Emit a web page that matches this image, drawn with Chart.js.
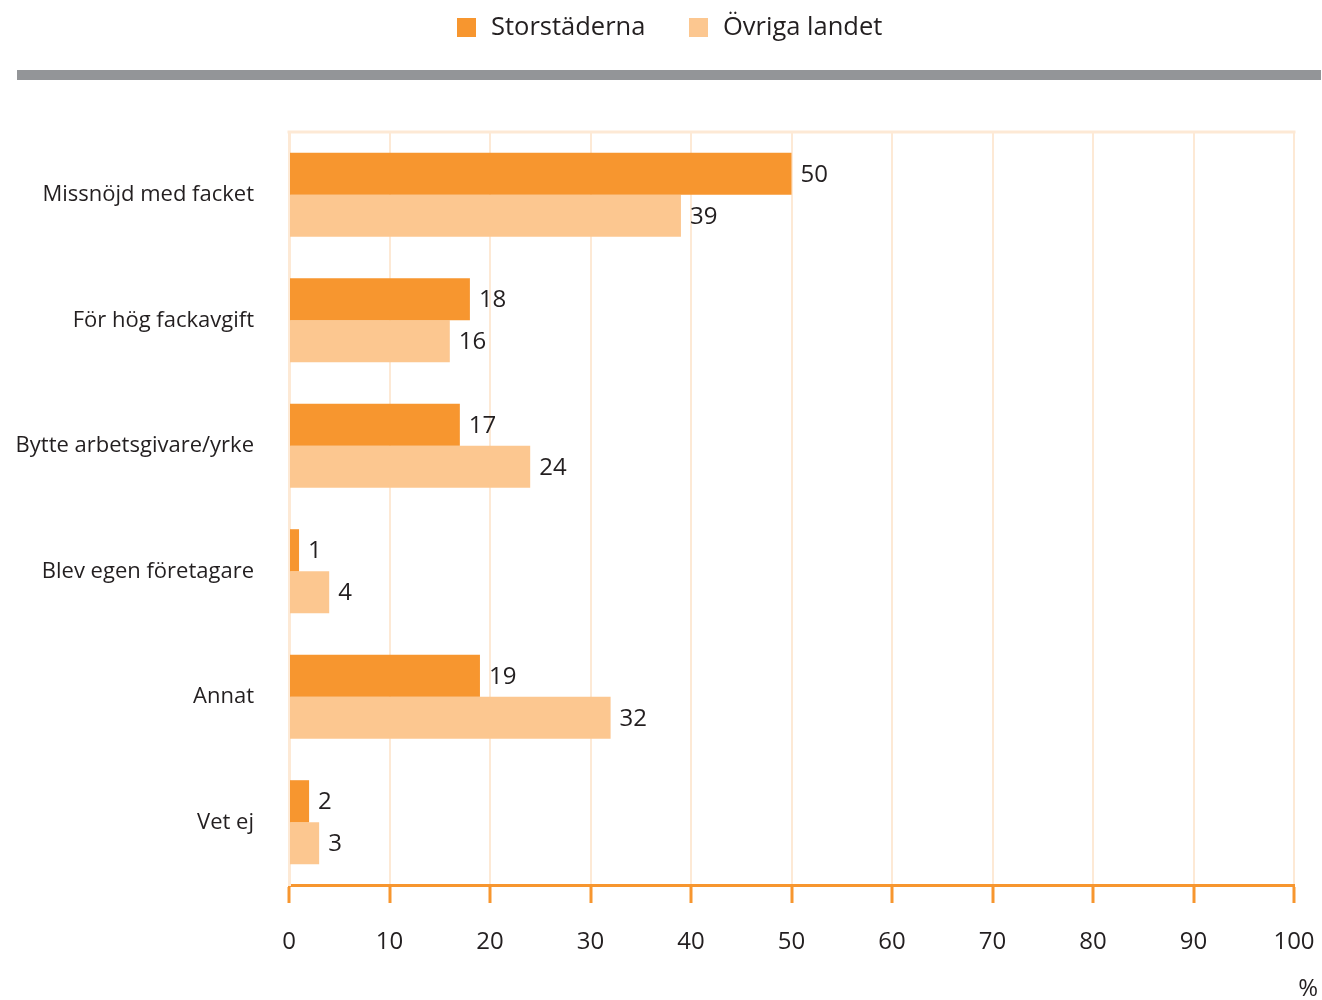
<!DOCTYPE html>
<html>
<head>
<meta charset="utf-8">
<script src="https://cdn.jsdelivr.net/npm/chart.js@4"></script>
<style>
  html, body { margin: 0; padding: 0; background: #fff; }
  #wrap { width: 1322px; height: 1000px; position: relative; }
</style>
</head>
<body>
<div id="wrap"><canvas id="myChart" width="1322" height="1000"></canvas></div>
<script>
const categories = ['Missnöjd med facket', 'För hög fackavgift', 'Bytte arbetsgivare/yrke', 'Blev egen företagare', 'Annat', 'Vet ej'];
const storstaderna = [50, 18, 17, 1, 19, 2];
const ovrigaLandet = [39, 16, 24, 4, 32, 3];
const seriesNames = ['Storstäderna', 'Övriga landet'];
const xTicks = [0, 10, 20, 30, 40, 50, 60, 70, 80, 90, 100];

const ORANGE = '#f7962f';
const LIGHT = '#fcc790';
const PEACH = '#fde9d5';
const TEXT = '#231f20';
const FONT = "'Open Sans', sans-serif";

// legend, grey rule, top border, % sign and value labels
const extras = {
  id: 'extras',
  beforeDraw(chart) {
    const c = chart.ctx;
    c.save();
    c.fillStyle = '#939598';
    c.fillRect(17, 70, 1304, 10);
    // legend
    c.font = '25.5px ' + FONT;
    c.textBaseline = 'middle';
    c.fillStyle = ORANGE;
    c.fillRect(457, 18, 19, 19);
    c.fillStyle = TEXT;
    c.fillText(seriesNames[0], 491, 28);
    c.fillStyle = LIGHT;
    c.fillRect(689, 18, 19, 19);
    c.fillStyle = TEXT;
    c.fillText(seriesNames[1], 723, 28);
    c.restore();
  },
  afterDraw(chart) {
    const c = chart.ctx;
    const a = chart.chartArea;
    c.save();
    c.strokeStyle = PEACH;
    c.lineWidth = 3;
    c.beginPath();
    c.moveTo(a.left - 1.5, a.top);
    c.lineTo(a.right + 1.5, a.top);
    c.stroke();
    c.fillStyle = TEXT;
    c.font = '24px ' + FONT;
    c.textBaseline = 'middle';
    c.textAlign = 'left';
    chart.data.datasets.forEach((ds, i) => {
      chart.getDatasetMeta(i).data.forEach((bar, j) => {
        c.fillText(String(ds.data[j]), bar.x + 9, bar.y + 1);
      });
    });
    c.textAlign = 'right';
    c.fillText('%', 1318, 989);
    c.restore();
  }
};

const ctx = document.getElementById('myChart');
new Chart(ctx, {
  type: 'bar',
  data: {
    labels: categories,
    datasets: [{
      label: seriesNames[0],
      data: storstaderna,
      backgroundColor: ORANGE,
      categoryPercentage: 0.67,
      barPercentage: 1
    }, {
      label: seriesNames[1],
      data: ovrigaLandet,
      backgroundColor: LIGHT,
      categoryPercentage: 0.67,
      barPercentage: 1
    }]
  },
  options: {
    indexAxis: 'y',
    responsive: false,
    animation: false,
    devicePixelRatio: 1,
    layout: { padding: { top: 132, right: 28, bottom: 0, left: 0 } },
    plugins: {
      legend: { display: false },
      tooltip: { enabled: false }
    },
    scales: {
      x: {
        min: 0,
        max: 100,
        afterBuildTicks(axis) { axis.ticks = xTicks.map(v => ({ value: v })); },
        afterFit(axis) {
          axis.height = 115;
          axis.paddingLeft = 0;
          axis.paddingRight = 0;
        },
        grid: {
          color: PEACH,
          lineWidth: 2,
          tickColor: ORANGE,
          tickLength: 18,
          tickWidth: 3,
          drawTicks: true
        },
        border: { display: true, color: ORANGE, width: 3 },
        ticks: {
          padding: 25,
          color: TEXT,
          font: { family: FONT, size: 24 }
        }
      },
      y: {
        afterFit(axis) { axis.width = 289; },
        grid: { display: false, drawTicks: false },
        border: { display: true, color: PEACH, width: 3 },
        ticks: {
          padding: 35,
          color: TEXT,
          font: { family: FONT, size: 22 }
        }
      }
    }
  },
  plugins: [extras]
});
</script>
</body>
</html>
